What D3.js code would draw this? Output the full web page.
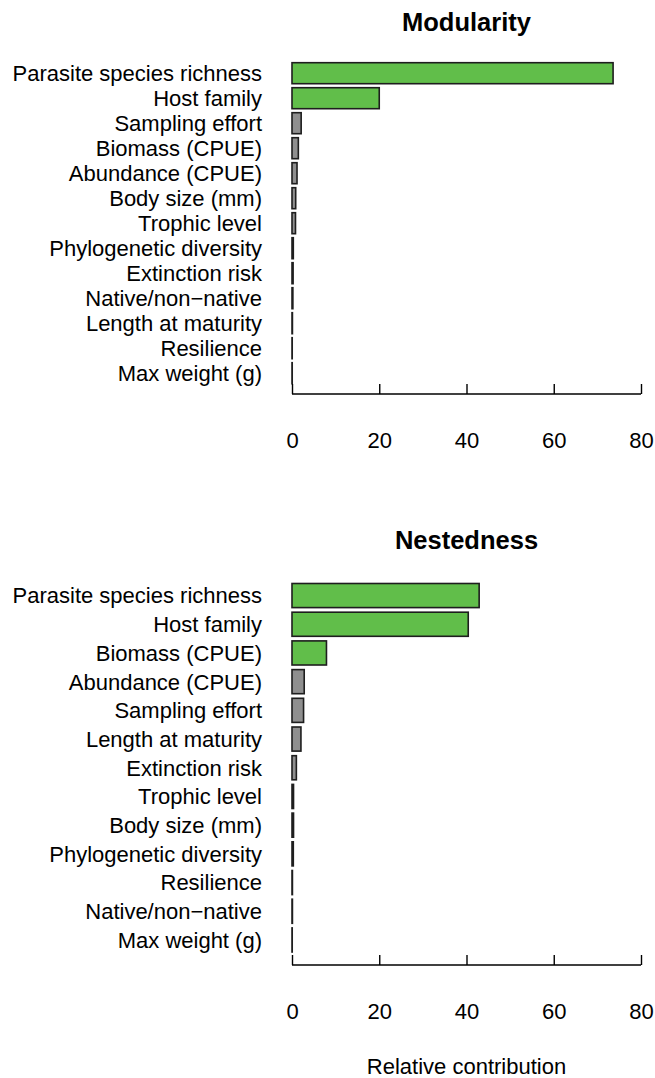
<!DOCTYPE html>
<html>
<head>
<meta charset="utf-8">
<script src="https://cdn.jsdelivr.net/npm/d3@7"></script>
<style>
  html, body { margin: 0; padding: 0; background: #fff; }
  svg text { font-family: "Liberation Sans", Arial, Helvetica, sans-serif; fill: #000; }
</style>
</head>
<body>
<svg id="chart" width="655" height="1078"></svg>
<script>
// ---- Data ----
const modLabels = ["Parasite species richness", "Host family", "Sampling effort", "Biomass (CPUE)",
  "Abundance (CPUE)", "Body size (mm)", "Trophic level", "Phylogenetic diversity",
  "Extinction risk", "Native/non\u2212native", "Length at maturity", "Resilience", "Max weight (g)"];
const modValues = [73.6, 20.0, 2.1, 1.45, 1.15, 0.85, 0.8, 0.3, 0.25, 0.2, 0.1, 0.05, 0.05];
const modHighlight = [true, true, false, false, false, false, false, false, false, false, false, false, false];

const nestLabels = ["Parasite species richness", "Host family", "Biomass (CPUE)", "Abundance (CPUE)",
  "Sampling effort", "Length at maturity", "Extinction risk", "Trophic level", "Body size (mm)",
  "Phylogenetic diversity", "Resilience", "Native/non\u2212native", "Max weight (g)"];
const nestValues = [42.9, 40.4, 7.9, 2.8, 2.65, 2.05, 1.0, 0.35, 0.35, 0.3, 0.1, 0.1, 0.05];
const nestHighlight = [true, true, true, false, false, false, false, false, false, false, false, false, false];

const xTicks = [0, 20, 40, 60, 80];
const xDomain = [0, 80];

// ---- Drawing ----
const svg = d3.select("#chart");
const x = d3.scaleLinear().domain(xDomain).range([292, 641]);
const green = "#61be4a", gray = "#8f8f8f", strokeC = "#1e1e1e";
const fontSize = 22;

function panel(cfg) {
  const g = svg.append("g");
  const y = d3.scaleBand().domain(cfg.labels).range(cfg.yRange)
    .paddingInner(0.16).paddingOuter(0.08);

  g.append("text").attr("x", (x.range()[0] + x.range()[1]) / 2).attr("y", cfg.titleY)
    .attr("text-anchor", "middle").attr("font-weight", "bold").attr("font-size", 25.5)
    .text(cfg.title);

  g.selectAll("rect.bar").data(cfg.values).join("rect")
    .attr("class", "bar")
    .attr("x", x(0))
    .attr("y", (d, i) => y(cfg.labels[i]))
    .attr("width", d => x(d) - x(0))
    .attr("height", y.bandwidth())
    .attr("fill", (d, i) => cfg.highlight[i] ? green : gray)
    .attr("stroke", strokeC).attr("stroke-width", 1.6);

  g.selectAll("text.lab").data(cfg.labels).join("text")
    .attr("class", "lab")
    .attr("x", 262)
    .attr("y", d => y(d) + y.bandwidth() / 2)
    .attr("dy", "0.36em")
    .attr("text-anchor", "end")
    .attr("font-size", fontSize)
    .text(d => d);

  // axis
  const ax = g.append("g").attr("transform", `translate(0,${cfg.axisY})`)
    .call(d3.axisBottom(x).tickValues(xTicks).tickSize(-10).tickPadding(0).tickFormat(d3.format("d")));
  ax.select(".domain").attr("d", `M${x(0)},0H${x(80)}`).attr("stroke", "#000").attr("stroke-width", 1.4);
  ax.selectAll(".tick line").attr("stroke", "#000").attr("stroke-width", 1.4);
  ax.selectAll(".tick text").attr("y", 54).attr("dy", 0).attr("font-size", fontSize)
    .style("font-family", '"Liberation Sans", Arial, sans-serif').attr("fill", "#000");
}

panel({ title: "Modularity", titleY: 31, labels: modLabels, values: modValues, highlight: modHighlight,
  yRange: [60.7, 385.7], axisY: 394 });
panel({ title: "Nestedness", titleY: 549, labels: nestLabels, values: nestValues, highlight: nestHighlight,
  yRange: [581.2, 954.3], axisY: 965 });

svg.append("text").attr("x", (x.range()[0] + x.range()[1]) / 2).attr("y", 1074)
  .attr("text-anchor", "middle").attr("font-size", fontSize).text("Relative contribution");
</script>
</body>
</html>
